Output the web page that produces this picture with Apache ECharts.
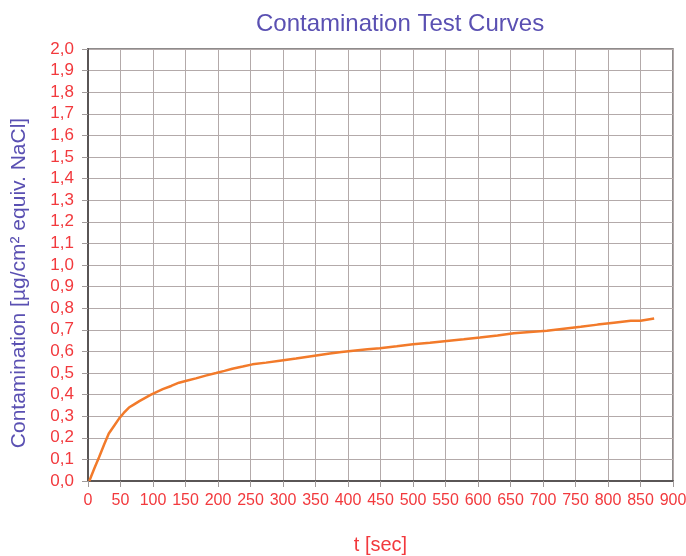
<!DOCTYPE html>
<html>
<head>
<meta charset="utf-8">
<script src="https://cdn.jsdelivr.net/npm/echarts@6/dist/echarts.min.js"></script>
<style>
  html, body { margin: 0; padding: 0; background: #ffffff; }
  #chart { width: 686px; height: 556px; }
</style>
</head>
<body>
<div id="chart"></div>
<script>
// Measured contamination (µg/cm² equiv. NaCl) against elapsed time (s)
const timeSec = [2, 10, 17, 25, 32, 40, 48, 55, 63, 71, 79, 88, 97, 106, 115, 128, 140, 153, 166, 181, 197, 210, 222, 238, 253, 274, 295, 320, 346, 372, 390, 408, 430, 449, 475, 500, 526, 552, 578, 603, 630, 655, 680, 706, 732, 758, 784, 809, 835, 850, 871];
const contamination = [0.00, 0.06, 0.11, 0.17, 0.22, 0.255, 0.29, 0.315, 0.34, 0.355, 0.37, 0.385, 0.40, 0.413, 0.425, 0.44, 0.455, 0.465, 0.475, 0.488, 0.50, 0.51, 0.52, 0.53, 0.54, 0.548, 0.557, 0.567, 0.579, 0.59, 0.597, 0.603, 0.61, 0.615, 0.624, 0.633, 0.64, 0.648, 0.656, 0.664, 0.674, 0.684, 0.69, 0.696, 0.705, 0.714, 0.724, 0.733, 0.742, 0.742, 0.752];

const xTicks = { min: 0, max: 900, step: 50 };
const yTicks = { min: 0, max: 2.0, step: 0.1 };

const titleText = 'Contamination Test Curves';
const yAxisTitle = 'Contamination [µg/cm² equiv. NaCl]';
const xAxisTitle = 't [sec]';

const font = '"Liberation Sans", Arial, sans-serif';
const red = '#f2393d';
const blue = '#5a50b2';

const chart = echarts.init(document.getElementById('chart'), null, { renderer: 'canvas' });

chart.setOption({
  backgroundColor: '#ffffff',
  animation: false,
  title: {
    text: titleText,
    left: 251,
    top: 7,
    textStyle: { color: blue, fontFamily: font, fontSize: 24, fontWeight: 'normal' }
  },
  grid: {
    left: 88, right: 13, top: 49, bottom: 75,
    outerBoundsMode: 'none',
    containLabel: false,
    show: true,
    borderColor: '#6a6666',
    borderWidth: 1.5,
    backgroundColor: '#ffffff'
  },
  xAxis: {
    type: 'value',
    min: xTicks.min, max: xTicks.max, interval: xTicks.step,
    name: xAxisTitle,
    nameLocation: 'middle',
    nameGap: 54,
    nameTextStyle: { color: red, fontFamily: font, fontSize: 20 },
    axisLine: { show: true, lineStyle: { color: '#5a5656', width: 2 } },
    axisTick: { show: true, length: 6, lineStyle: { color: '#a09a9a' } },
    axisLabel: {
      color: red, fontFamily: font, fontSize: 16, margin: 12,
      showMinLabel: true, showMaxLabel: true
    },
    splitLine: { show: true, lineStyle: { color: '#b3aaaa', width: 1 } }
  },
  yAxis: {
    type: 'value',
    min: yTicks.min, max: yTicks.max, interval: yTicks.step,
    name: yAxisTitle,
    nameLocation: 'middle',
    nameGap: 58,
    nameTextStyle: { color: blue, fontFamily: font, fontSize: 21, padding: [0, 36, 0, 0] },
    axisLine: { show: true, lineStyle: { color: '#5a5656', width: 2 } },
    axisTick: { show: true, length: 6, lineStyle: { color: '#a09a9a' } },
    axisLabel: {
      color: red, fontFamily: font, fontSize: 17, margin: 14,
      formatter: v => v.toFixed(1).replace('.', ',')
    },
    splitLine: { show: true, lineStyle: { color: '#b3aaaa', width: 1 } }
  },
  series: [{
    type: 'line',
    data: timeSec.map((t, i) => [t, contamination[i]]),
    showSymbol: false,
    smooth: false,
    lineStyle: { color: '#f27a2a', width: 2.5 }
  }]
});
</script>
</body>
</html>
